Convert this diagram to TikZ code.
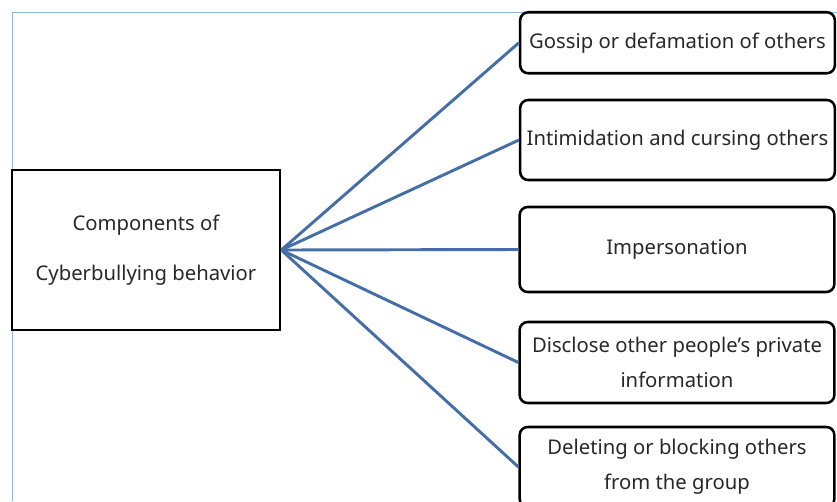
\documentclass[tikz,border=0pt]{standalone}
\usepackage{fontspec}
\setmainfont{Noto Sans}
\usepackage{tikz}
\usetikzlibrary{positioning}
\definecolor{frameblue}{RGB}{149,179,215}
\definecolor{linkblue}{RGB}{68,110,165}
\definecolor{textgray}{RGB}{40,40,40}

\begin{document}
\begin{tikzpicture}[x=0.75pt,y=-0.75pt,
  item/.style={draw,line width=1.9pt,rounded corners=6pt,fill=white,align=center,
    minimum width=236pt,inner sep=1pt,text=textgray,font=\fontsize{15.2}{26}\selectfont},
  link/.style={linkblue,line width=2.2pt}]
\clip (0,0) rectangle (837,501);
\draw[frameblue,line width=1.2pt] (12.5,501) -- (12.5,12.5) -- (837,12.5);
\node[draw,line width=1.9pt,fill=white,minimum width=201pt,minimum height=120pt,
  align=center,text=textgray,font=\fontsize{15.2}{37.5}\selectfont] (comp) at (146,250)
  {Components of\\Cyberbullying behavior};
\node[item,minimum height=45.75pt] (gossip) at (677.5,42.75) {Gossip or defamation of others};
\node[item,minimum height=60pt] (intim) at (677.5,140) {Intimidation and cursing others};
\node[item,minimum height=63.75pt] (imper) at (677,249.5) {Impersonation};
\node[item,minimum height=60.75pt] (disc) at (677,362.5) {Disclose other people's private\\information};
\node[item,minimum height=60pt] (dele) at (677,467) {Deleting or blocking others\\from the group};
\foreach \t in {gossip,intim,imper,disc,dele}
  \draw[link] (comp.east) -- (\t.west);
\end{tikzpicture}
\end{document}
